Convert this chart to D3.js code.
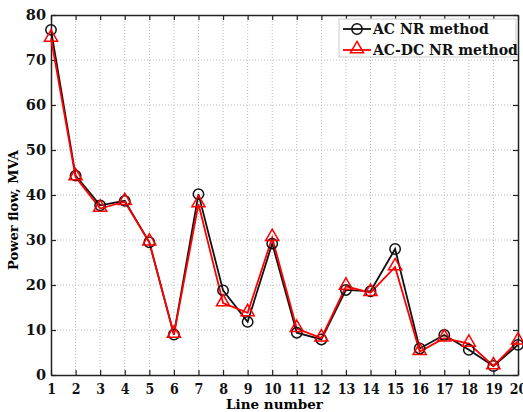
<!DOCTYPE html>
<html>
<head>
<meta charset="utf-8">
<script src="https://cdn.jsdelivr.net/npm/d3@7"></script>
<style>
  body { margin: 0; background: #fff; }
  text { font-family: "DejaVu Serif", serif; font-weight: bold; }
</style>
</head>
<body>
<script>
const lines = d3.range(1, 21);
const acNR = [76.7, 44.3, 37.7, 38.7, 29.5, 9.0, 40.2, 18.8, 11.8, 29.2,
  9.4, 7.9, 18.9, 18.6, 28.0, 5.9, 8.9, 5.6, 2.0, 6.7];
const acdcNR = [74.8, 44.0, 37.0, 38.5, 29.5, 9.0, 38.0, 16.0, 13.8, 30.5,
  10.3, 8.2, 19.7, 18.3, 24.0, 5.2, 8.2, 7.0, 2.0, 7.5];
const yTicks = [0, 10, 20, 30, 40, 50, 60, 70, 80];

const margin = { top: 15, right: 5, bottom: 37, left: 51 };
const width = 523 - margin.left - margin.right;
const height = 412 - margin.top - margin.bottom;

const svg = d3.select('body').append('svg')
  .attr('width', 523)
  .attr('height', 412);

const g = svg.append('g').attr('transform', `translate(${margin.left},${margin.top})`);

const x = d3.scaleLinear().domain([1, 20]).range([0, width]);
const y = d3.scaleLinear().domain([0, 80]).range([height, 0]);

// grid
g.append('g')
  .selectAll('line')
  .data(lines.slice(1, -1))
  .enter()
  .append('line')
  .attr('x1', (d) => x(d)).attr('x2', (d) => x(d))
  .attr('y1', 0).attr('y2', height)
  .style('stroke', '#bbb').style('stroke-dasharray', '1,2');
g.append('g')
  .selectAll('line')
  .data(yTicks.slice(1, -1))
  .enter()
  .append('line')
  .attr('x1', 0).attr('x2', width)
  .attr('y1', (d) => y(d)).attr('y2', (d) => y(d))
  .style('stroke', '#bbb').style('stroke-dasharray', '1,2');

// axes
const xAxis = g.append('g').attr('transform', `translate(0,${height})`)
  .call(d3.axisBottom(x).tickValues(lines).tickFormat(d3.format('d')).tickSizeInner(-5).tickSizeOuter(0).tickPadding(9));
const xTop = g.append('g')
  .call(d3.axisTop(x).tickValues(lines).tickFormat('').tickSizeInner(-5).tickSizeOuter(0));
const yAxis = g.append('g')
  .call(d3.axisLeft(y).tickValues(yTicks).tickSizeInner(-5).tickSizeOuter(0).tickPadding(5));
const yRight = g.append('g').attr('transform', `translate(${width},0)`)
  .call(d3.axisRight(y).tickValues(yTicks).tickFormat('').tickSizeInner(-5).tickSizeOuter(0));

[xAxis, xTop, yAxis, yRight].forEach((a) => {
  a.selectAll('path').style('stroke', '#222').style('stroke-width', 1.5);
  a.selectAll('line').style('stroke', '#222').style('stroke-width', 1.2);
});
xAxis.selectAll('text').style('font-size', '14px').style('fill', '#111')
  .style('font-family', '"DejaVu Serif Condensed", "DejaVu Serif", serif');
yAxis.selectAll('text').style('font-size', '14.5px').style('fill', '#111');

g.append('text')
  .attr('x', width / 2 - 10)
  .attr('y', height + 34)
  .attr('text-anchor', 'middle')
  .style('font-size', '13.5px')
  .text('Line number');

g.append('text')
  .attr('transform', `translate(${-33},${height / 2 + 15}) rotate(-90)`)
  .attr('text-anchor', 'middle')
  .style('font-size', '13px')
  .text('Power flow, MVA');

// series
const lineGen = (vals) => d3.line().x((d, i) => x(lines[i])).y((d) => y(d))(vals);

g.append('path').attr('d', lineGen(acNR))
  .style('fill', 'none').style('stroke', '#111').style('stroke-width', 1.8);
g.append('path').attr('d', lineGen(acdcNR))
  .style('fill', 'none').style('stroke', '#f00').style('stroke-width', 1.8);

const circle = d3.symbol().type(d3.symbolCircle).size(85);
const tri = d3.symbol().type(d3.symbolTriangle).size(75);

g.append('g').selectAll('path')
  .data(acNR).enter().append('path')
  .attr('d', circle)
  .attr('transform', (d, i) => `translate(${x(lines[i])},${y(d)})`)
  .style('fill', 'none').style('stroke', '#111').style('stroke-width', 1.5);
g.append('g').selectAll('path')
  .data(acdcNR).enter().append('path')
  .attr('d', tri)
  .attr('transform', (d, i) => `translate(${x(lines[i])},${y(d) - 1})`)
  .style('fill', 'none').style('stroke', '#f00').style('stroke-width', 1.5);

// legend
const leg = svg.append('g').attr('transform', 'translate(339,19)');
leg.append('rect').attr('width', 177).attr('height', 38)
  .style('fill', '#fff').style('stroke', '#ccc');
const entries = [
  { name: 'AC NR method', color: '#111', sym: circle },
  { name: 'AC-DC NR method', color: '#f00', sym: tri },
];
entries.forEach((e, i) => {
  const yy = 10 + i * 21;
  leg.append('line').attr('x1', 4).attr('x2', 32).attr('y1', yy).attr('y2', yy)
    .style('stroke', e.color).style('stroke-width', 1.8);
  leg.append('path').attr('d', e.sym)
    .attr('transform', `translate(18,${yy - (i ? 1 : 0)})`)
    .style('fill', 'none').style('stroke', e.color).style('stroke-width', 1.5);
  leg.append('text').attr('x', 34).attr('y', yy + 5)
    .style('font-size', '14px').style('fill', '#111')
    .text(e.name);
});
</script>
</body>
</html>
